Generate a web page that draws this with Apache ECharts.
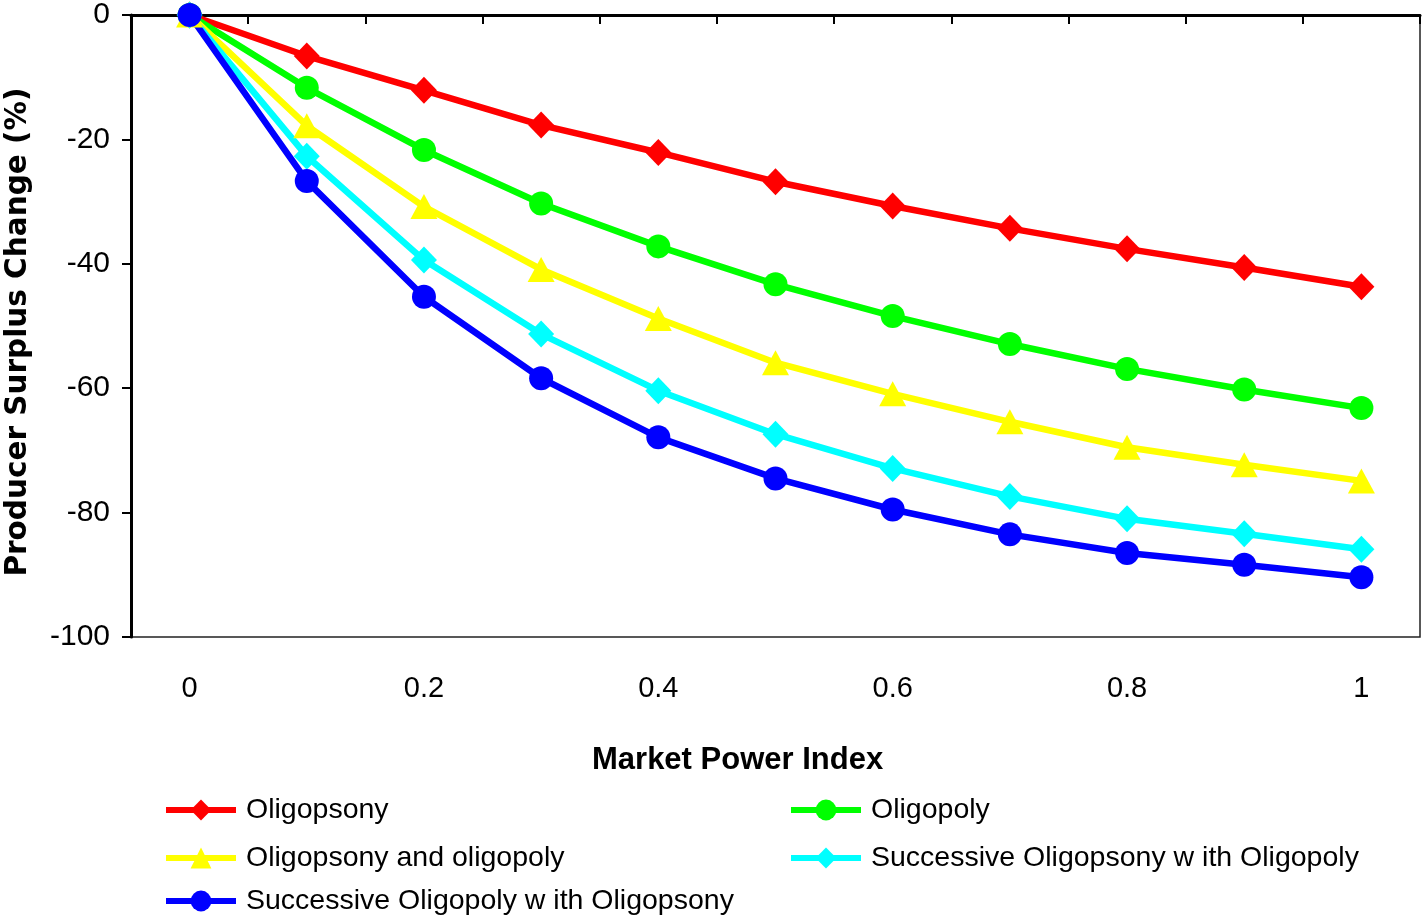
<!DOCTYPE html>
<html>
<head>
<meta charset="utf-8">
<script src="https://cdn.jsdelivr.net/npm/echarts@6/dist/echarts.min.js"></script>
<style>
html,body{margin:0;padding:0;background:#fff;}
#chart{width:1422px;height:919px;}
</style>
</head>
<body>
<div id="chart"></div>
<script>
const categories = ['0','0.1','0.2','0.3','0.4','0.5','0.6','0.7','0.8','0.9','1'];
const oligopsony = [0,-6.6,-12.1,-17.7,-22.1,-26.8,-30.7,-34.3,-37.6,-40.6,-43.7];
const oligopoly = [0,-11.7,-21.7,-30.3,-37.2,-43.3,-48.4,-52.9,-56.9,-60.2,-63.2];
const oligopsonyAndOligopoly = [0,-17.8,-30.8,-40.9,-48.8,-55.9,-60.9,-65.4,-69.5,-72.3,-74.9];
const successiveOligopsonyWithOligopoly = [0,-22.7,-39.4,-51.3,-60.4,-67.4,-72.9,-77.4,-81.0,-83.4,-85.9];
const successiveOligopolyWithOligopsony = [0,-26.7,-45.3,-58.4,-67.9,-74.5,-79.5,-83.5,-86.5,-88.4,-90.4];
const seriesNames = ['Oligopsony','Oligopoly','Oligopsony and oligopoly','Successive Oligopsony w ith Oligopoly','Successive Oligopoly w ith Oligopsony'];
const yTicks = [0,-20,-40,-60,-80,-100];
const xTitle = 'Market Power Index';
const yTitle = 'Producer Surplus Change (%)';

const SANS = '"Liberation Sans",Arial,sans-serif';
const WIDEBOLD = '"DejaVu Sans","Liberation Sans",sans-serif';

const chart = echarts.init(document.getElementById('chart'), null, {renderer:'canvas'});

function mkSeries(name, data, color, symbol, size){
  return {
    name: name, type: 'line', data: data,
    symbol: symbol, symbolSize: size,
    lineStyle: {color: color, width: 6.5},
    itemStyle: {color: color},
    emphasis: {disabled: true},
    animation: false
  };
}

function mkLegend(name, left, top){
  return {
    data: [name], left: left, top: top, padding: 0,
    itemWidth: 70, itemHeight: 26,
    selectedMode: false,
    lineStyle: {width: 6},
    textStyle: {fontFamily: SANS, fontSize: 28.5, color: '#000', padding: [0,0,0,5], lineHeight: 32}
  };
}

chart.setOption({
  animation: false,
  backgroundColor: '#fff',
  title: {
    text: xTitle, left: 592, top: 743, padding: 0,
    textStyle: {fontFamily: SANS, fontWeight: 'bold', fontSize: 31, color: '#000', lineHeight: 34}
  },
  grid: {left: 131, right: 2, top: 15, bottom: 282, outerBoundsMode: 'none', containLabel: false,
         show: true, borderColor: '#222', borderWidth: 1.5, backgroundColor: 'transparent'},
  xAxis: {
    type: 'category', data: categories, boundaryGap: true,
    axisLine: {lineStyle: {color: '#000', width: 3}},
    axisTick: {show: true, interval: 0, length: 9, lineStyle: {color: '#000', width: 2}},
    axisLabel: {interval: 1, margin: 37, fontFamily: SANS, fontSize: 29, color: '#000'},
    splitLine: {show: false}
  },
  yAxis: {
    type: 'value', min: yTicks[yTicks.length-1], max: yTicks[0], interval: 20,
    axisLine: {show: true, lineStyle: {color: '#000', width: 3}},
    axisTick: {show: true, length: 9, lineStyle: {color: '#000', width: 2}},
    axisLabel: {margin: 21, fontFamily: SANS, fontSize: 30, color: '#000'},
    splitLine: {show: false},
    name: yTitle, nameLocation: 'middle', nameGap: 98, nameRotate: 90,
    nameTextStyle: {fontFamily: WIDEBOLD, fontWeight: 'bold', fontSize: 29.5, color: '#000', padding: [0, 12, 0, 0]}
  },
  legend: [
    mkLegend(seriesNames[0], 163, 794),
    mkLegend(seriesNames[1], 788, 794),
    mkLegend(seriesNames[2], 163, 842),
    mkLegend(seriesNames[3], 788, 842),
    mkLegend(seriesNames[4], 163, 885)
  ],
  series: [
    mkSeries(seriesNames[0], oligopsony, '#ff0000', 'diamond', [26,27]),
    mkSeries(seriesNames[1], oligopoly, '#00ff00', 'circle', 24),
    mkSeries(seriesNames[2], oligopsonyAndOligopoly, '#ffff00', 'triangle', [27,25]),
    mkSeries(seriesNames[3], successiveOligopsonyWithOligopoly, '#00ffff', 'diamond', [26,27]),
    mkSeries(seriesNames[4], successiveOligopolyWithOligopsony, '#0000ff', 'circle', 24)
  ]
});
</script>
</body>
</html>
